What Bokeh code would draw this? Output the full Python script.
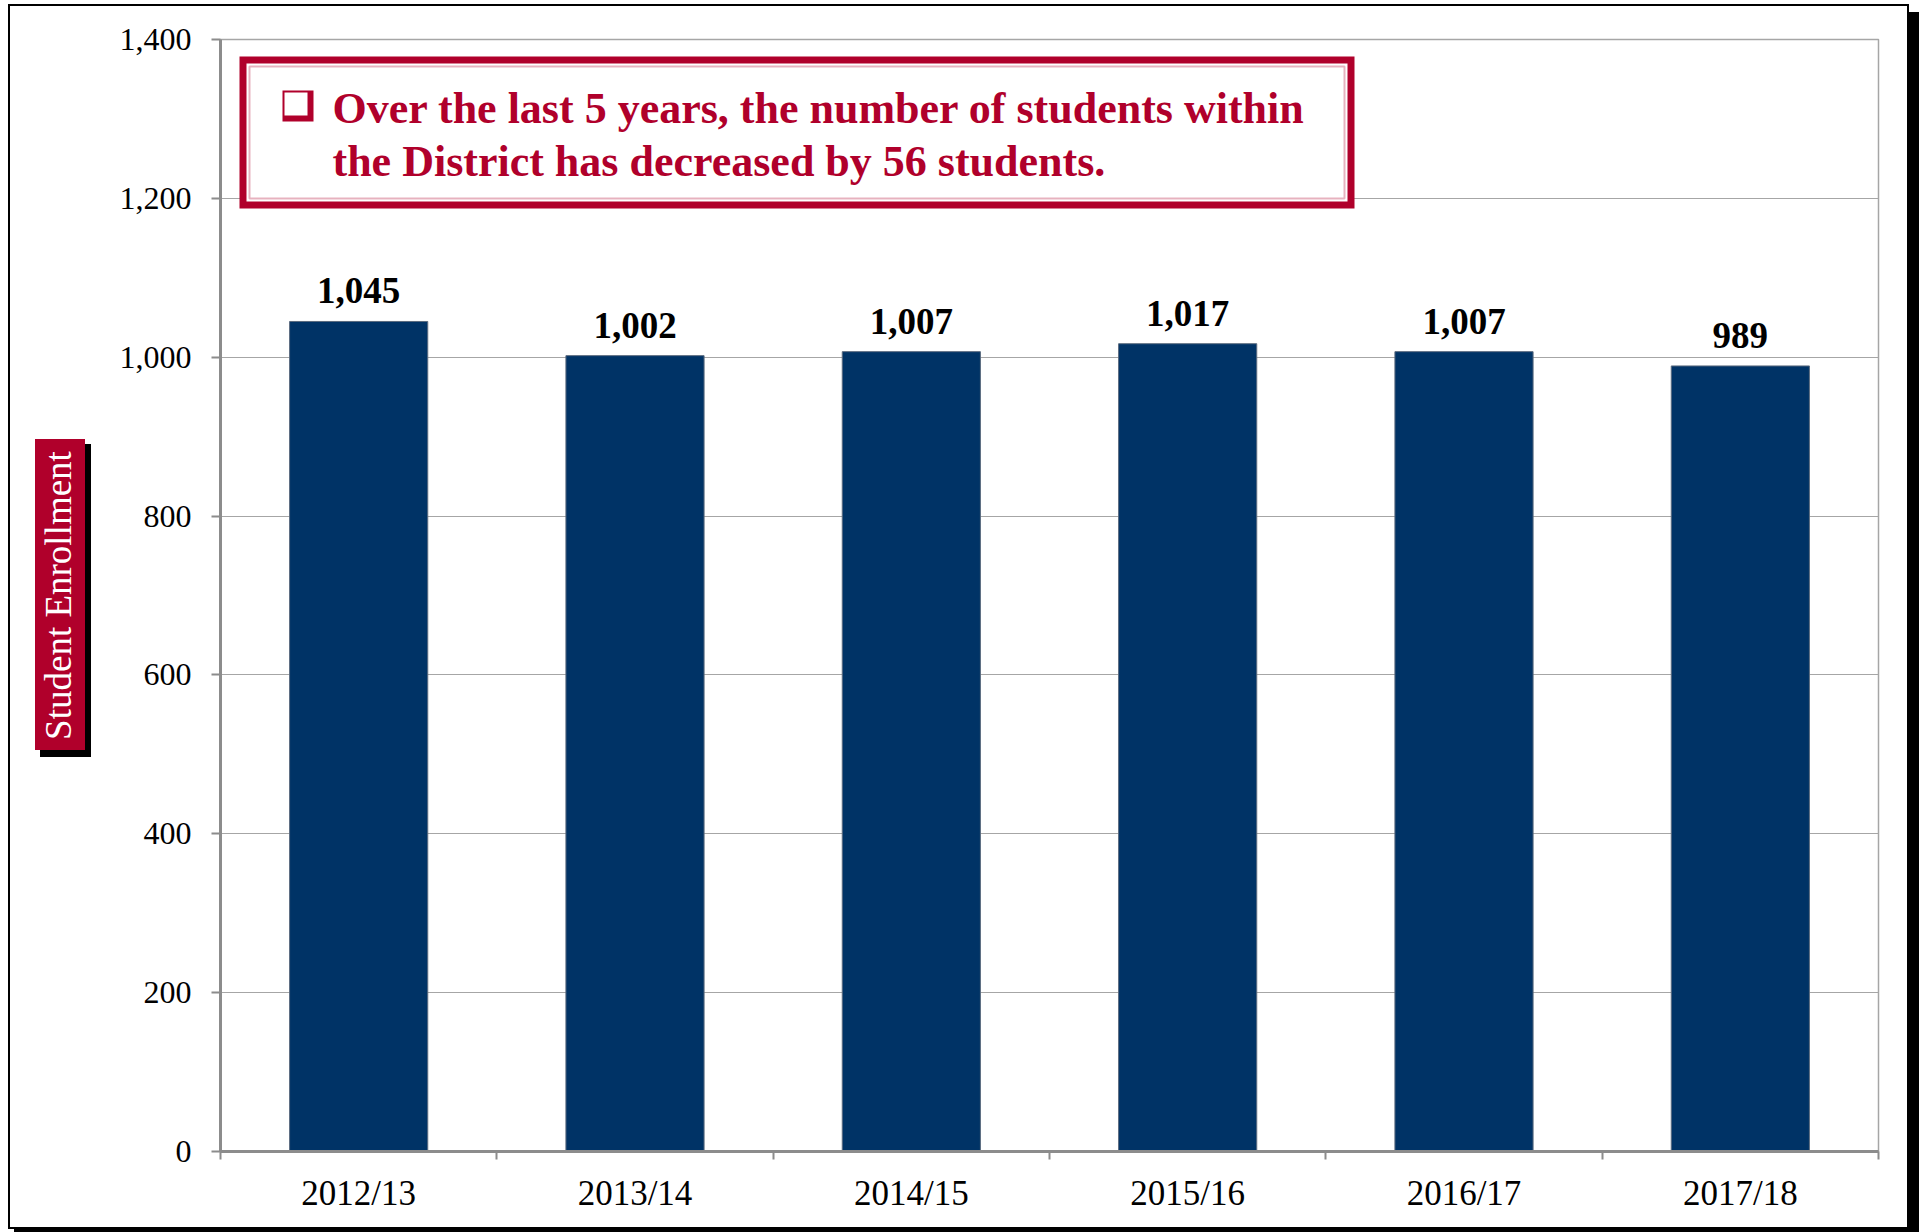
from bokeh.plotting import figure
from bokeh.models import (Range1d, FixedTicker, NumeralTickFormatter, ColumnDataSource,
                          LabelSet, Label, BoxAnnotation)
from bokeh.embed import file_html
from bokeh.resources import INLINE

# ---- data ----
years = ["2012/13", "2013/14", "2014/15", "2015/16", "2016/17", "2017/18"]
enrollment = [1045, 1002, 1007, 1017, 1007, 989]
y_ticks = [0, 200, 400, 600, 800, 1000, 1200, 1400]
note_line1 = "Over the last 5 years, the number of  students within"
note_line2 = "the District has decreased by 56 students."
y_title = "Student Enrollment"

RED = "#B0002B"
NAVY = "#003366"
GRID = "#A6A6A6"
AXIS = "#8C8C8C"
SERIF = "Liberation Serif"

xs = [i + 0.5 for i in range(len(years))]
boundaries = list(range(len(years) + 1))

p = figure(width=1919, height=1232, output_backend="svg", toolbar_location=None,
           x_range=Range1d(0, len(years)), y_range=Range1d(0, 1400),
           min_border_left=220, min_border_right=41, min_border_top=39, min_border_bottom=81)
p.background_fill_color = "white"
p.border_fill_alpha = 0
p.outline_line_color = GRID
p.outline_line_width = 1.5


# page frame, shadow and y-title box painted behind the (transparent) plot margins
def rect(l, t, w, h, color):
    return f"linear-gradient({color}, {color}) {l}px {t}px / {w}px {h}px no-repeat"

p.styles = {"background": ", ".join([
    rect(1908, 12, 11, 1220, "black"),      # right shadow
    rect(14, 1228, 1905, 4, "black"),       # bottom shadow
    rect(8, 4, 1901, 2, "black"),           # top line
    rect(8, 1227, 1901, 2, "black"),        # bottom line
    rect(8, 4, 2, 1225, "black"),           # left line
    rect(1907, 4, 2, 1225, "black"),        # right line
    rect(35, 439, 50, 311, RED),            # y-title box
    rect(40, 444, 51, 313, "black"),        # y-title shadow
]) + ", white"}

src = ColumnDataSource(dict(x=xs, top=enrollment, label=[f"{v:,}" for v in enrollment]))
p.vbar(x="x", top="top", width=0.5, source=src, fill_color=NAVY, line_color="#5B6B7F", line_width=1)

# y axis
p.yaxis.ticker = FixedTicker(ticks=y_ticks)
p.yaxis.formatter = NumeralTickFormatter(format="0,0")
p.yaxis.axis_line_color = AXIS
p.yaxis.axis_line_width = 3
p.yaxis.major_tick_line_color = AXIS
p.yaxis.major_tick_line_width = 2
p.yaxis.major_tick_out = 9
p.yaxis.major_tick_in = 0
p.yaxis.minor_tick_line_color = None
p.yaxis.major_label_text_font = SERIF
p.yaxis.major_label_text_font_size = "32px"
p.yaxis.major_label_text_color = "black"
p.yaxis.major_label_standoff = 20
p.yaxis.axis_label = y_title
p.yaxis.axis_label_text_font = SERIF
p.yaxis.axis_label_text_font_size = "37px"
p.yaxis.axis_label_text_font_style = "normal"
p.yaxis.axis_label_text_color = "white"
p.yaxis.axis_label_standoff = 38

# x axis
p.xaxis.ticker = FixedTicker(ticks=xs, minor_ticks=boundaries)
p.xaxis.major_label_overrides = {x: y for x, y in zip(xs, years)}
p.xaxis.axis_line_color = AXIS
p.xaxis.axis_line_width = 3
p.xaxis.major_tick_line_color = None
p.xaxis.major_tick_out = 0
p.xaxis.major_tick_in = 0
p.xaxis.minor_tick_line_color = AXIS
p.xaxis.minor_tick_line_width = 2
p.xaxis.minor_tick_out = 8
p.xaxis.minor_tick_in = 0
p.xaxis.major_label_text_font = SERIF
p.xaxis.major_label_text_font_size = "35px"
p.xaxis.major_label_text_color = "black"
p.xaxis.major_label_standoff = 14

p.xgrid.grid_line_color = None
p.ygrid.ticker = FixedTicker(ticks=y_ticks)
p.ygrid.grid_line_color = GRID
p.ygrid.grid_line_width = 1

# value labels
labels = LabelSet(x="x", y="top", text="label", source=src, y_offset=18,
                  text_align="center", text_baseline="alphabetic",
                  text_font=SERIF, text_font_style="bold", text_font_size="37px",
                  text_color="black", background_fill_color="white")
p.add_layout(labels)

# helper: page coords -> screen units relative to frame (frame lower-left origin)
FX0, FY0 = 220, 1151
def box(l, r, t, b, **kw):
    return BoxAnnotation(left=l - FX0, right=r - FX0, top=FY0 - t, bottom=FY0 - b,
                         left_units="screen", right_units="screen",
                         top_units="screen", bottom_units="screen", **kw)

# note box
p.add_layout(box(239, 1354, 56, 208, fill_color=RED, fill_alpha=1, line_color=None))
p.add_layout(box(246, 1347, 63, 201, fill_color="white", fill_alpha=1, line_color=None))
p.add_layout(box(249, 1344, 66, 198, fill_color="white", fill_alpha=1, line_color=RED, line_width=2))
# bullet square
p.add_layout(box(282, 313, 90, 121, fill_color=RED, fill_alpha=1, line_color=None))
p.add_layout(box(284, 307, 92, 115, fill_color="white", fill_alpha=1, line_color=None))

for txt, base in ((note_line1, 108), (note_line2, 161)):
    p.add_layout(Label(x=332 - FX0, y=FY0 - base, x_units="screen", y_units="screen",
                       text=txt, text_font=SERIF, text_font_style="bold",
                       text_font_size="44px", text_color=RED,
                       text_align="left", text_baseline="alphabetic"))

open("out.html", "w").write(file_html(p, INLINE))
